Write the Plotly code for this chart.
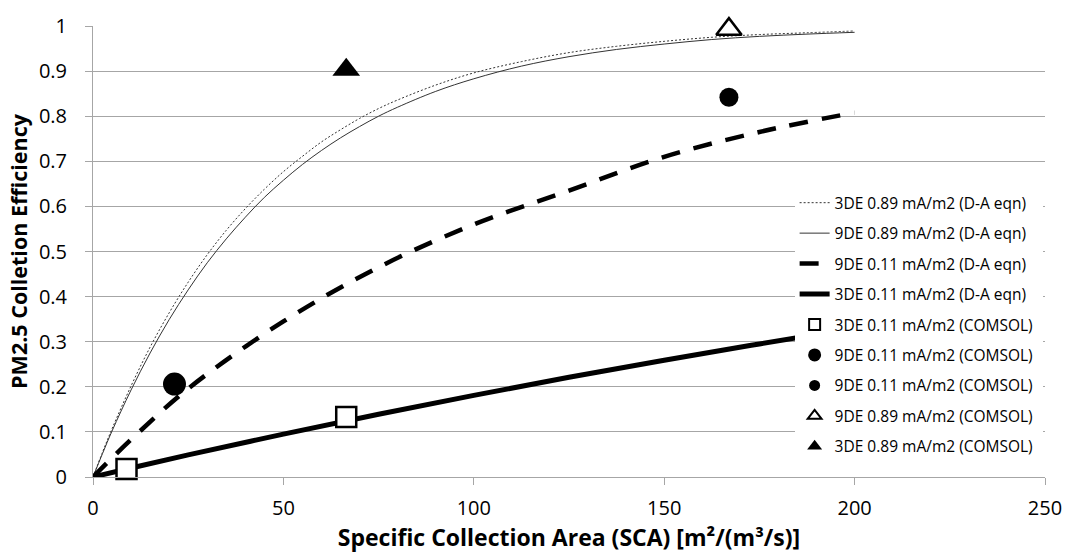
import plotly.graph_objects as go

# ---- data ----
sca_curve = [0, 2.5, 5, 10, 15, 20, 25, 30, 35, 40, 45, 50, 55, 60, 65, 70, 75, 80, 90,
             100, 112.5, 125, 137.5, 150, 162.5, 175, 187.5, 200]
eff_3de_089_da = [0, 0.055, 0.107, 0.202, 0.288, 0.364, 0.432, 0.493, 0.547, 0.595, 0.638,
                  0.677, 0.711, 0.743, 0.770, 0.795, 0.817, 0.836, 0.869, 0.896, 0.921,
                  0.941, 0.955, 0.966, 0.975, 0.981, 0.985, 0.989]
eff_9de_089_da = [0, 0.052, 0.102, 0.193, 0.275, 0.349, 0.415, 0.475, 0.528, 0.576, 0.620,
                  0.658, 0.693, 0.724, 0.752, 0.777, 0.800, 0.820, 0.855, 0.883, 0.911,
                  0.932, 0.948, 0.960, 0.970, 0.977, 0.982, 0.986]

sca_low = [0, 10, 25, 50, 75, 100, 125, 150, 175, 200]
eff_9de_011_da = [0, 0.083, 0.196, 0.345, 0.465, 0.560, 0.635, 0.710, 0.765, 0.808]
eff_3de_011_da = [0, 0.020, 0.049, 0.095, 0.139, 0.181, 0.221, 0.259, 0.295, 0.330]

sca_3de_011_c = [8.8, 66.5]
eff_3de_011_c = [0.018, 0.133]
sca_9de_011_c1 = [21.4]
eff_9de_011_c1 = [0.206]
sca_9de_011_c2 = [167]
eff_9de_011_c2 = [0.842]
sca_9de_089_c = [167]
eff_9de_089_c = [0.993]
sca_3de_089_c = [66.5]
eff_3de_089_c = [0.903]

x_ticks = [0, 50, 100, 150, 200, 250]
y_ticks = [0, 0.1, 0.2, 0.3, 0.4, 0.5, 0.6, 0.7, 0.8, 0.9, 1]
y_tick_labels = ["0", "0.1", "0.2", "0.3", "0.4", "0.5", "0.6", "0.7", "0.8", "0.9", "1"]

FONT = "Open Sans"
fig = go.Figure()

def add_line(x, y, name, line):
    fig.add_trace(go.Scatter(x=x, y=y, name=name, legendgroup=name, mode="lines",
                             cliponaxis=False, line=line))

def add_markers(x, y, name, marker, legend_size):
    # plotted marks (no legend entry) ...
    fig.add_trace(go.Scatter(x=x, y=y, name=name, legendgroup=name, mode="markers",
                             cliponaxis=False, showlegend=False, marker=marker))
    # ... and a small legend swatch, as in the reference legend
    leg = dict(marker)
    leg["size"] = legend_size
    if "line" in leg:
        leg["line"] = dict(color="black", width=2)
    fig.add_trace(go.Scatter(x=[None], y=[None], name=name, legendgroup=name,
                             mode="markers", marker=leg))

add_line(sca_curve, eff_3de_089_da, "3DE 0.89 mA/m2 (D-A eqn)",
         dict(color="#333333", width=1, dash="2px,2px", shape="spline"))
add_line(sca_curve, eff_9de_089_da, "9DE 0.89 mA/m2 (D-A eqn)",
         dict(color="#333333", width=1, shape="spline"))
add_line(sca_low, eff_9de_011_da, "9DE 0.11 mA/m2 (D-A eqn)",
         dict(color="black", width=4.5, dash="19px,14px", shape="spline"))
add_line(sca_low, eff_3de_011_da, "3DE 0.11 mA/m2 (D-A eqn)",
         dict(color="black", width=5, shape="spline"))
add_markers(sca_3de_011_c, eff_3de_011_c, "3DE 0.11 mA/m2 (COMSOL)",
            dict(symbol="square", size=20, color="white", line=dict(color="black", width=2.5)), 11)
add_markers(sca_9de_011_c1, eff_9de_011_c1, "9DE 0.11 mA/m2 (COMSOL)",
            dict(symbol="circle", size=23, color="black"), 13)
add_markers(sca_9de_011_c2, eff_9de_011_c2, "9DE 0.11 mA/m2 (COMSOL) ",
            dict(symbol="circle", size=19, color="black"), 11)
add_markers(sca_9de_089_c, eff_9de_089_c, "9DE 0.89 mA/m2 (COMSOL)",
            dict(symbol="triangle-up", size=22, color="white", line=dict(color="black", width=2.5)), 12)
add_markers(sca_3de_089_c, eff_3de_089_c, "3DE 0.89 mA/m2 (COMSOL)",
            dict(symbol="triangle-up", size=24, color="black"), 13)

fig.update_layout(
    width=1074, height=556,
    margin=dict(l=93, r=23, t=20, b=79),
    paper_bgcolor="white", plot_bgcolor="white",
    font=dict(family=FONT, color="black"),
    legend=dict(x=0.737, y=0.645, xanchor="left", yanchor="top",
                bgcolor="white", font=dict(family=FONT, size=15.5, color="black"),
                tracegroupgap=7.3, itemwidth=30),
    showlegend=True,
)
fig.update_xaxes(range=[0, 250], tickvals=x_ticks, showgrid=False,
                 showline=True, linecolor="#a6a6a6", linewidth=1,
                 ticks="outside", ticklen=7, tickcolor="#a6a6a6", ticklabelstandoff=6,
                 tickfont=dict(family=FONT, size=20), zeroline=False,
                 title=dict(text="<b>Specific Collection Area (SCA) [m²/(m³/s)]</b>",
                            font=dict(family=FONT, size=23), standoff=2))
fig.update_yaxes(range=[0, 1], tickvals=y_ticks, ticktext=y_tick_labels,
                 showgrid=True, gridcolor="#a6a6a6", gridwidth=1,
                 showline=True, linecolor="#a6a6a6", linewidth=1,
                 ticks="outside", ticklen=7, tickcolor="#a6a6a6", ticklabelstandoff=14,
                 tickfont=dict(family=FONT, size=20), zeroline=False,
                 title=dict(text="<b>PM2.5 Colletion Efficiency</b>",
                            font=dict(family=FONT, size=21.5), standoff=5))

fig.write_html("out.html")
